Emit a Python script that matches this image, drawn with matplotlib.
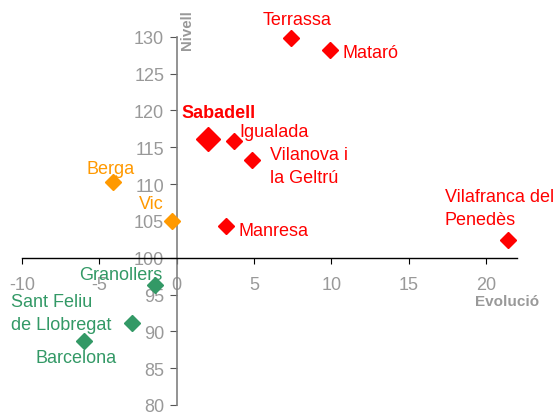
import matplotlib
matplotlib.use("Agg")
import matplotlib.pyplot as plt

plt.rcParams['font.family'] = ['Liberation Sans', 'DejaVu Sans']

names = ["Terrassa", "Mataró", "Sabadell", "Igualada", "Vilanova i\nla Geltrú",
         "Berga", "Vic", "Manresa", "Vilafranca del\nPenedès",
         "Granollers", "Sant Feliu\nde Llobregat", "Barcelona"]
evolucio = [7.4, 9.9, 2.0, 3.7, 4.9, -4.1, -0.3, 3.2, 21.4, -1.4, -2.9, -6.0]
nivell = [129.8, 128.2, 116.1, 115.8, 113.3, 110.3, 105.0, 104.3, 102.4, 96.3, 91.1, 88.7]
groups = ["r", "r", "r", "r", "r", "o", "o", "r", "r", "g", "g", "g"]

xticks = [-10, -5, 0, 5, 10, 15, 20]
yticks = [80, 85, 90, 95, 100, 105, 110, 115, 120, 125, 130]

colors = {"r": "#FF0000", "o": "#FF9900", "g": "#339966"}
# label offsets in pixels (text styling)
offsets = [(6, 19, "center"), (13, -3, "left"), (-26, 27, "left"), (5, 10, "left"),
           (18, -6, "left"), (-3, 13, "center"), (-8, 17, "right"), (12, -4, "left"),
           (-63, 32, "left"), (7, 10, "right"), (-121, 10, "left"), (-8, -17, "center")]

fig = plt.figure(figsize=(5.55, 4.14), dpi=100)
ax = fig.add_axes([22/555, 1-406/414, (517-22)/555, (406-37.7)/414])
ax.set_xlim(-10, 22)
ax.set_ylim(80, 130)

for i, (n, x, y, g) in enumerate(zip(names, evolucio, nivell, groups)):
    big = (n == "Sabadell")
    ax.plot(x, y, marker="D", color=colors[g], markersize=12 if big else 8.5,
            linestyle="none", clip_on=False, zorder=3)
    dx, dy, ha = offsets[i]
    ax.annotate(n, (x, y), xytext=(dx, dy), textcoords="offset pixels",
                ha=ha, va="center", color=colors[g], fontsize=13,
                fontweight="bold" if big else "normal", linespacing=1.45,
                annotation_clip=False)

for s in ["top", "right"]:
    ax.spines[s].set_visible(False)
ax.spines["left"].set_position(("data", 0))
ax.spines["bottom"].set_position(("data", 100))
ax.spines["left"].set_color("#808080")
ax.spines["bottom"].set_color("#000000")
ax.spines["left"].set_linewidth(1.2)
ax.spines["bottom"].set_linewidth(1.0)

ax.set_xticks(xticks)
ax.set_yticks(yticks)
ax.set_xticklabels([str(t) for t in xticks])
ax.set_yticklabels([str(t) for t in yticks])
ax.tick_params(axis="x", direction="out", length=4, colors="#000000",
               labelcolor="#999999", labelsize=13, pad=9)
ax.tick_params(axis="y", direction="out", length=5, colors="#555555",
               labelcolor="#999999", labelsize=13, pad=4)
ax.patch.set_visible(False)

fig.text(539/555, 1-302/414, "Evolució", ha="right", va="center",
         color="#999999", fontsize=11, fontweight="bold")
fig.text(187/555, 1-30/414, "Nivell", ha="center", va="center", rotation=90,
         color="#999999", fontsize=10.8, fontweight="bold")

fig.savefig("out.png", dpi=100)
